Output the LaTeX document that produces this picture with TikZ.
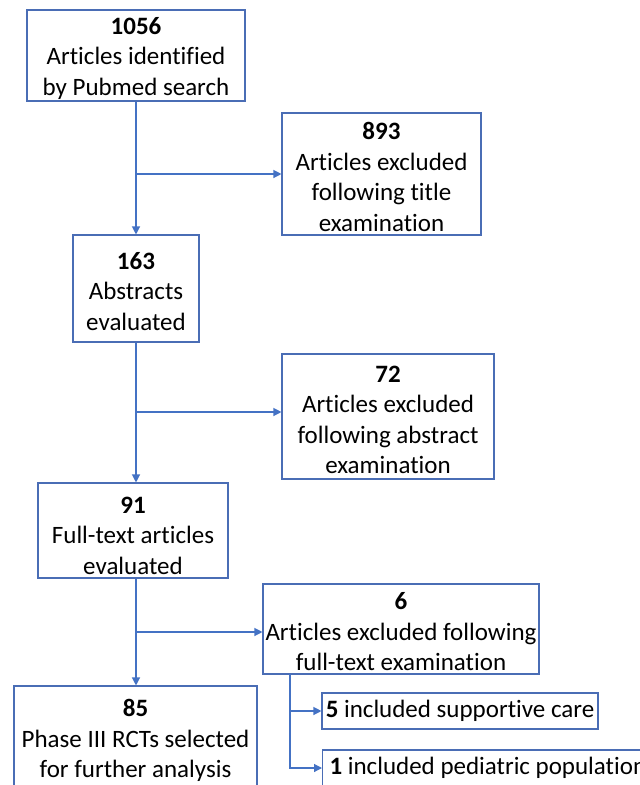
\documentclass[tikz,border=0pt]{standalone}
\usepackage{fontspec}
\setmainfont{Carlito}[Ligatures=NoCommon]
\usetikzlibrary{positioning,arrows.meta}
\definecolor{lineblue}{HTML}{4472C4}
\definecolor{boxblue}{HTML}{4A6DB5}
\newcommand{\hd}[1]{\rule{0pt}{23pt}\textbf{#1}}
\tikzset{
  box/.style={draw=boxblue, line width=1.1pt, align=center, inner sep=0pt,
    font=\fontsize{25}{30.5}\selectfont},
  arr/.style={draw=lineblue, line width=1.2pt, -{Triangle[length=8pt,width=8pt]}}
}
\begin{document}
\begin{tikzpicture}[x=1pt,y=-1pt]
\useasboundingbox (0,0) rectangle (640,785);
\clip (0,0) rectangle (640,785);
\node[box, minimum width=218, minimum height=91] (a) at (136,55.5) {\hd{1056}\\Articles identified\\by Pubmed search};
\node[box, minimum width=199, minimum height=122] (b) at (381.5,174) {\hd{893}\\Articles excluded\\following title\\examination};
\node[box, minimum width=126, minimum height=107] (c) at (136,288.5) {\hd{163}\\Abstracts\\evaluated};
\node[box, minimum width=212, minimum height=125] (d) at (388,416.5) {\hd{72}\\Articles excluded\\following abstract\\examination};
\node[box, minimum width=190, minimum height=95] (e) at (133,530.5) {\rule{0pt}{27pt}\textbf{91}\\Full-text articles\\evaluated};
\node[box, minimum width=276, minimum height=90] (f) at (401,629) {\hd{6}\\Articles excluded following\\full-text examination};
\node[box, minimum width=243, minimum height=104] (g) at (135.5,738) {\hd{85}\\Phase III RCTs selected\\for further analysis};
\node[box, minimum width=276, minimum height=36] (h) at (460,711) {\textbf{5} included supportive care};
\node[box, anchor=west, minimum height=36, inner xsep=7pt] (i) at (322,768) {\textbf{1} included pediatric population};
\coordinate (split) at (290,674);
\draw[arr] (a) -- (c);
\draw[arr] (a.south |- b.west) -- (b.west);
\draw[arr] (c) -- (c |- e.north);
\draw[arr] (c.south |- 0,412) -- (d.west |- 0,412);
\draw[arr] (c |- e.south) -- (c |- g.north);
\draw[arr] (c |- 0,632) -- (f.west |- 0,632);
\draw[arr] (split) |- (h.west);
\draw[arr] (split) |- (i.west);
\end{tikzpicture}
\end{document}
